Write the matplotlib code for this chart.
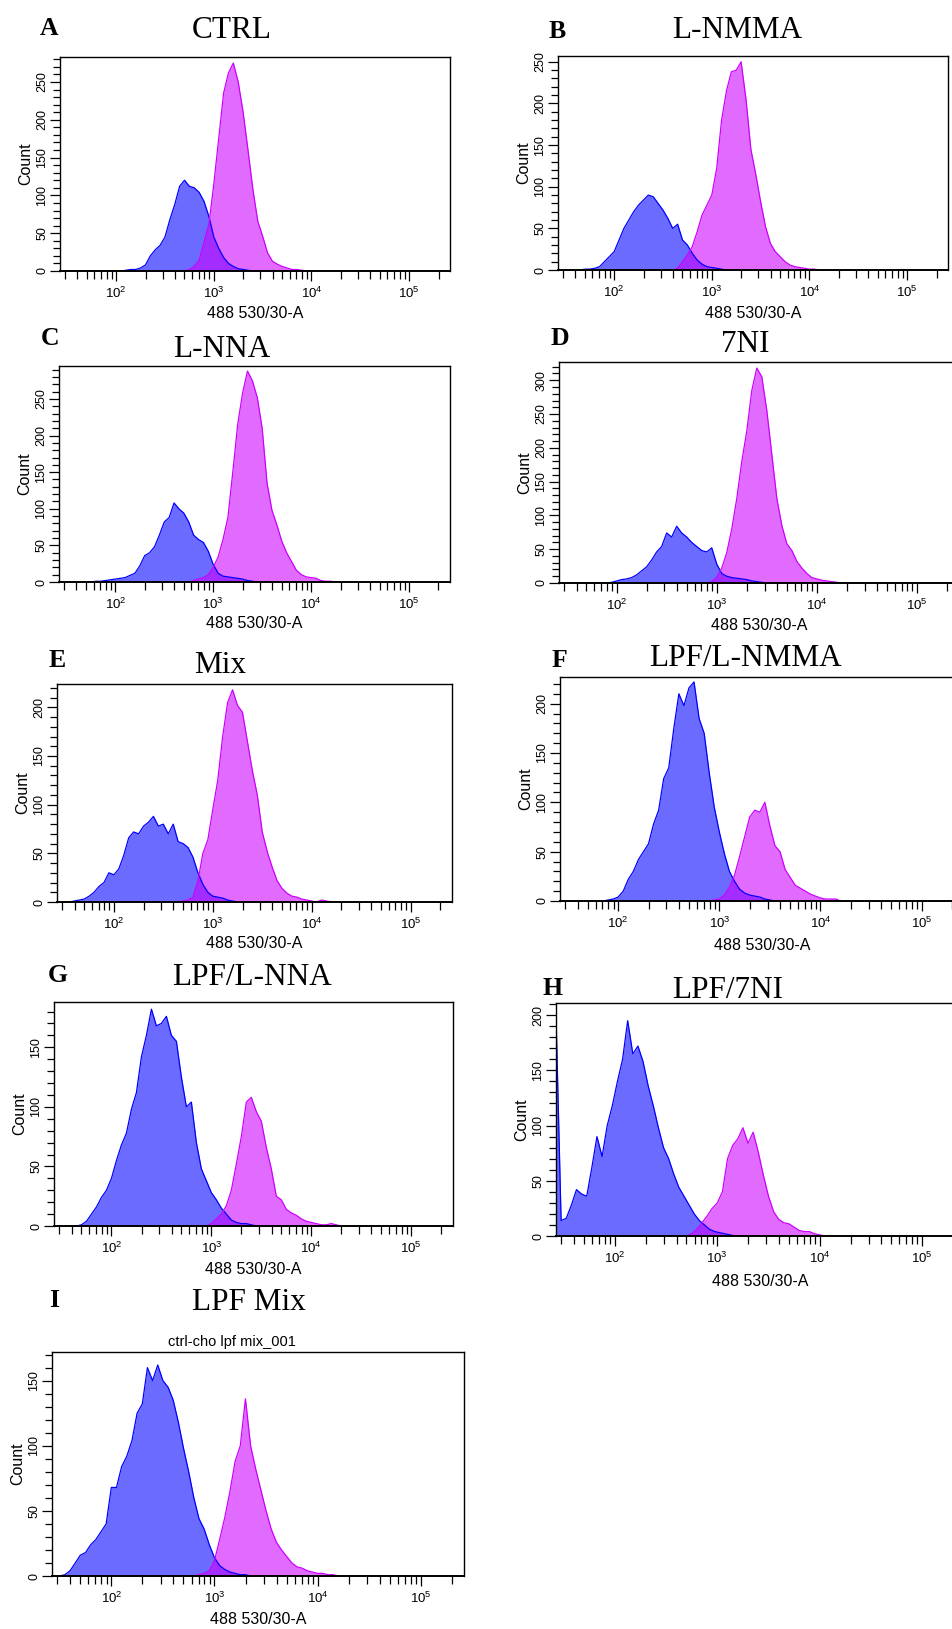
"""Nine-panel flow cytometry overlay: DAF-FM fluorescence histograms (blue vs magenta)."""

import matplotlib.pyplot as plt
import numpy as np
from matplotlib.ticker import LogLocator, MultipleLocator, NullFormatter

plt.rcParams["font.family"] = ["Liberation Sans", "DejaVu Sans"]
plt.rcParams["mathtext.fontset"] = "custom"
plt.rcParams["mathtext.rm"] = "Liberation Sans"

PANELS = ["A", "B", "C", "D", "E", "F", "G", "H", "I"]
TITLES = ["CTRL", "L-NMMA", "L-NNA", "7NI", "Mix", "LPF/L-NMMA", "LPF/L-NNA", "LPF/7NI", "LPF Mix"]
X_LABEL = "488 530/30-A"
Y_LABEL = "Count"
SUBTITLE_I = "ctrl-cho lpf mix_001"
COUNT_MAX = [283, 257, 295, 327, 224, 227, 188, 211, 172]

# histogram counts, one value every 0.05 decade, first one at log10 = *_start
BIN_WIDTH = 0.05
ctrl_blue_start = 2.10
ctrl_blue = [1, 2, 2, 4, 8, 20, 28, 34, 45, 68, 88, 112, 120, 112, 110, 104, 92, 72,
             45, 30, 18, 10, 6, 3, 2, 1]
ctrl_mag_start = 2.75
ctrl_mag = [2, 6, 14, 38, 62, 115, 175, 235, 262, 275, 250, 210, 160, 108, 66, 46, 24,
            13, 9, 6, 4, 2, 2, 1]
lnmma_blue_start = 1.70
lnmma_blue = [1, 1, 2, 4, 10, 16, 22, 36, 50, 60, 70, 78, 84, 90, 88, 80, 72, 62, 50, 55,
              36, 30, 20, 12, 7, 4, 3, 2, 1]
lnmma_mag_start = 2.65
lnmma_mag = [2, 10, 18, 28, 46, 66, 78, 90, 122, 180, 215, 238, 240, 250, 205, 145, 115,
             82, 52, 32, 22, 16, 10, 6, 4, 3, 2, 1, 1]
lnna_blue_start = 1.80
lnna_blue = [1, 1, 2, 3, 4, 5, 6, 9, 12, 22, 36, 40, 48, 64, 82, 88, 108, 100, 94, 82,
             64, 58, 54, 42, 24, 12, 8, 7, 6, 5, 4, 2, 1]
lnna_mag_start = 2.80
lnna_mag = [2, 4, 6, 10, 20, 34, 58, 88, 150, 215, 258, 288, 275, 252, 210, 135, 98, 78,
            56, 40, 28, 16, 10, 7, 6, 5, 2, 1, 1]
sevenni_blue_start = 1.95
sevenni_blue = [1, 3, 5, 6, 8, 12, 18, 24, 34, 46, 54, 74, 68, 84, 74, 68, 60, 54, 48, 46,
                52, 28, 14, 10, 8, 7, 6, 5, 3, 2, 1]
sevenni_mag_start = 2.95
sevenni_mag = [2, 8, 22, 45, 80, 125, 180, 225, 285, 318, 305, 255, 190, 125, 85, 58, 48,
               32, 22, 14, 8, 6, 4, 3, 2, 1]
mix_blue_start = 1.60
mix_blue = [1, 2, 3, 6, 10, 16, 20, 30, 28, 34, 48, 66, 72, 70, 78, 82, 88, 78, 80, 70,
            80, 62, 60, 56, 46, 30, 18, 10, 6, 5, 4, 2, 1]
mix_mag_start = 2.70
mix_mag = [1, 2, 5, 22, 50, 64, 95, 125, 170, 205, 218, 202, 195, 165, 135, 110, 72, 52,
           36, 22, 14, 9, 6, 5, 3, 2, 1, 0, 2, 1]
lpf_lnmma_blue_start = 1.90
lpf_lnmma_blue = [1, 2, 4, 10, 22, 30, 42, 50, 58, 78, 92, 124, 135, 175, 210, 198, 216,
                  222, 185, 170, 130, 95, 70, 48, 30, 20, 12, 8, 6, 5, 4, 2, 1]
lpf_lnmma_mag_start = 2.95
lpf_lnmma_mag = [1, 2, 6, 14, 26, 45, 65, 85, 92, 90, 100, 76, 56, 50, 32, 24, 16, 13, 10,
                 7, 5, 3, 2, 2, 2]
lpf_lnna_blue_start = 1.70
lpf_lnna_blue = [1, 4, 10, 16, 24, 30, 40, 55, 68, 78, 98, 112, 142, 160, 182, 168, 170,
                 176, 160, 155, 125, 100, 104, 70, 48, 38, 28, 22, 15, 10, 5, 3, 2, 2, 1]
lpf_lnna_mag_start = 3.00
lpf_lnna_mag = [2, 6, 10, 17, 30, 52, 75, 104, 108, 96, 88, 66, 48, 25, 22, 14, 11, 9, 6,
                4, 3, 2, 1, 1, 2, 1]
lpf_7ni_blue_start = 1.425
lpf_7ni_blue = [200, 14, 16, 28, 42, 38, 36, 62, 90, 72, 100, 118, 140, 160, 195, 165, 172,
                158, 136, 118, 98, 80, 70, 56, 44, 36, 28, 20, 14, 10, 6, 4, 3, 2, 1]
lpf_7ni_mag_start = 2.75
lpf_7ni_mag = [2, 6, 12, 18, 25, 30, 40, 70, 82, 88, 98, 84, 94, 76, 55, 36, 22, 15, 12,
               11, 8, 5, 4, 4, 2, 1]
lpf_mix_blue_start = 1.55
lpf_mix_blue = [1, 4, 10, 16, 18, 24, 28, 34, 40, 68, 68, 84, 92, 104, 125, 132, 160, 150,
                162, 150, 145, 135, 118, 98, 80, 60, 44, 36, 24, 14, 8, 5, 3, 2, 1, 1]
lpf_mix_mag_start = 2.85
lpf_mix_mag = [1, 2, 4, 12, 28, 45, 65, 88, 100, 136, 100, 82, 66, 50, 36, 26, 20, 15, 10,
               7, 6, 4, 3, 2, 2, 1, 1]

BLUE_SERIES = [(ctrl_blue_start, ctrl_blue), (lnmma_blue_start, lnmma_blue),
               (lnna_blue_start, lnna_blue), (sevenni_blue_start, sevenni_blue),
               (mix_blue_start, mix_blue), (lpf_lnmma_blue_start, lpf_lnmma_blue),
               (lpf_lnna_blue_start, lpf_lnna_blue), (lpf_7ni_blue_start, lpf_7ni_blue),
               (lpf_mix_blue_start, lpf_mix_blue)]
MAGENTA_SERIES = [(ctrl_mag_start, ctrl_mag), (lnmma_mag_start, lnmma_mag),
                  (lnna_mag_start, lnna_mag), (sevenni_mag_start, sevenni_mag),
                  (mix_mag_start, mix_mag), (lpf_lnmma_mag_start, lpf_lnmma_mag),
                  (lpf_lnna_mag_start, lpf_lnna_mag), (lpf_7ni_mag_start, lpf_7ni_mag),
                  (lpf_mix_mag_start, lpf_mix_mag)]

# canvas layout in pixels (953 x 1629)
W, H = 953, 1629
AXES_BOX = [(60, 450, 57, 271), (558, 948, 56, 270), (59, 450, 366, 582),
            (559, 959, 362, 583), (57, 452, 684, 902), (560, 964, 677, 901),
            (54, 453, 1002, 1226), (556, 965, 1003, 1236), (52, 464, 1352, 1576)]
TITLE_POS = [(232, 38), (737, 38), (222, 357), (745, 352), (220, 673), (745, 666),
             (252, 985), (728, 998), (249, 1310)]
LETTER_POS = [(49, 35), (557, 38), (50, 345), (560, 345), (57, 667), (559, 667),
              (58, 982), (553, 995), (54, 1307)]
XLABEL_OFFSET = [42, 43, 41, 42, 41, 44, 44, 46, 44]

BLUE, MAGENTA = "#0000ff", "#cc00ff"


def _population_curve(start, counts):
    """Return log-spaced positions and counts, closed to zero at both ends."""
    counts = np.concatenate(([0.0], np.asarray(counts, dtype=float), [0.0]))
    positions = 10 ** (start + BIN_WIDTH * (np.arange(counts.size) - 1))
    return positions, counts


def main() -> None:
    figure = plt.figure(figsize=(W / 100, H / 100), dpi=100)
    for index, (letter, title) in enumerate(zip(PANELS, TITLES)):
        left, right, top, bottom = AXES_BOX[index]
        axis = figure.add_axes([left / W, 1 - bottom / H, (right - left) / W, (bottom - top) / H])
        curves = [(_population_curve(*BLUE_SERIES[index]), BLUE),
                  (_population_curve(*MAGENTA_SERIES[index]), MAGENTA)]
        for (positions, counts), color in curves:
            axis.fill_between(positions, counts, 0, color=color, alpha=0.58, linewidth=0)
        for (positions, counts), color in curves:
            axis.plot(positions, counts, color=color, linewidth=0.9)

        axis.set_xscale("log")
        axis.set_xlim(10 ** 1.425, 262144)
        axis.set_ylim(0, COUNT_MAX[index])
        axis.yaxis.set_major_locator(MultipleLocator(50))
        axis.yaxis.set_minor_locator(MultipleLocator(10))
        axis.xaxis.set_minor_locator(LogLocator(base=10, subs=np.arange(2, 10), numticks=50))
        axis.xaxis.set_minor_formatter(NullFormatter())
        axis.tick_params(which="both", direction="out", width=0.9, colors="black")
        axis.tick_params(axis="x", which="major", length=7.5, pad=3, labelsize=9.5)
        axis.tick_params(axis="x", which="minor", length=6)
        axis.tick_params(axis="y", which="major", length=7, pad=1.5, labelsize=9, labelrotation=90)
        axis.tick_params(axis="y", which="minor", length=5)
        for label in axis.get_yticklabels():
            label.set_va("center")
        for side in ("top", "right", "left"):
            axis.spines[side].set_linewidth(1.0)
        axis.spines["bottom"].set_linewidth(1.4)

        height = bottom - top
        axis.set_xlabel(X_LABEL, fontsize=11.5, va="center")
        axis.xaxis.set_label_coords(0.5, -XLABEL_OFFSET[index] / height)
        axis.set_ylabel(Y_LABEL, fontsize=11.5, va="center")
        axis.yaxis.set_label_coords(-34 / (right - left), 0.5)

        tx, ty = TITLE_POS[index]
        figure.text(tx / W, 1 - ty / H, title, family="Liberation Serif", fontsize=22.5,
                    ha="center", va="baseline")
        lx, ly = LETTER_POS[index]
        figure.text(lx / W, 1 - ly / H, letter, family="Liberation Serif", fontsize=18.5,
                    fontweight="bold", ha="center", va="baseline")

    figure.text(232 / W, 1 - 1342 / H, SUBTITLE_I, fontsize=10.5, ha="center", va="center")
    figure.savefig("out.png", dpi=100)


if __name__ == "__main__":
    main()
